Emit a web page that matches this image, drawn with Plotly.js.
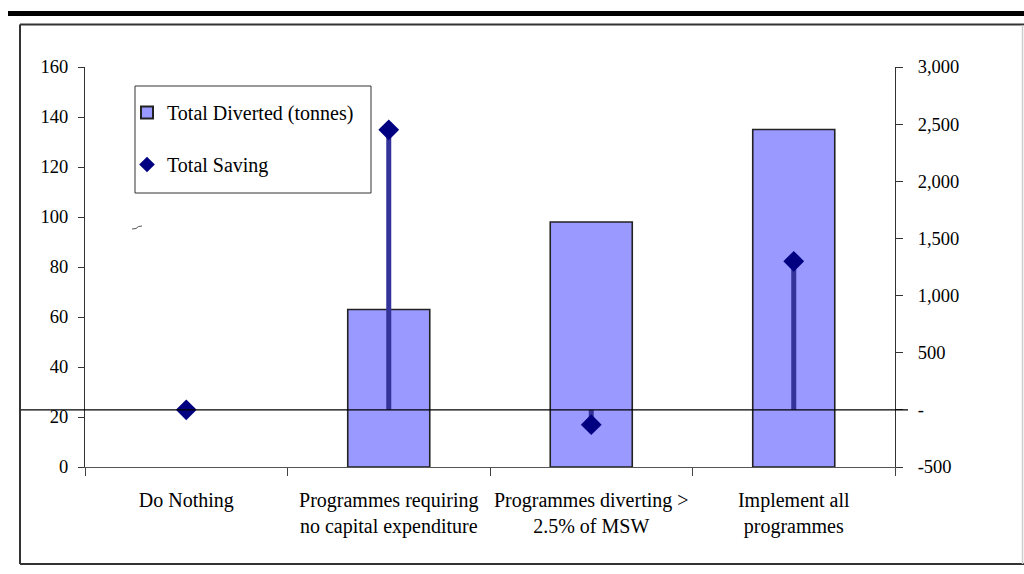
<!DOCTYPE html>
<html>
<head>
<meta charset="utf-8">
<script src="https://cdn.plot.ly/plotly-3.0.1.min.js"></script>
<style>
  html, body { margin: 0; padding: 0; background: #fff; }
  #chart { width: 1024px; height: 574px; }
</style>
</head>
<body>
<div id="chart"></div>
<script>
// Waste diversion options: tonnes diverted (left axis) and total saving (right axis)
const categories = [
  "Do Nothing",
  "Programmes requiring<br>no capital expenditure",
  "Programmes diverting &gt;<br>2.5% of MSW",
  "Implement all<br>programmes"
];
const totalDiverted = [0, 63, 98, 135];
const totalSaving = [0, 2450, -130, 1300];

const leftTicks = [0, 20, 40, 60, 80, 100, 120, 140, 160];
const rightTickVals = [-500, 0, 500, 1000, 1500, 2000, 2500, 3000];
const rightTickText = ["-500", "-", "500", "1,000", "1,500", "2,000", "2,500", "3,000"];

// Plot area in pixels
const L = 85, R = 895, T = 67, B = 467;
const px = x => (x - L) / (R - L);
const py = y => (B - y) / (B - T);

// Drop lines from zero to each saving value
const dropX = [], dropY = [];
categories.forEach((c, i) => {
  dropX.push(c, c, null);
  dropY.push(0, totalSaving[i], null);
});

const serif = "'Liberation Serif', 'Times New Roman', serif";
const numFont = { family: serif, size: 18.5, color: "#000" };
const textFont = { family: serif, size: 20, color: "#000" };

const traces = [
  {
    type: "bar",
    name: "Total Diverted (tonnes)",
    x: categories,
    y: totalDiverted,
    marker: {
      color: "#9999FF",
      // no outline on an empty bar
      line: { color: "#222", width: totalDiverted.map(v => (v ? 1.6 : 0)) }
    },
    legendgroup: "a",
    hoverinfo: "skip"
  },
  {
    type: "scatter",
    mode: "lines",
    x: dropX,
    y: dropY,
    yaxis: "y2",
    line: { color: "#333399", width: 5 },
    showlegend: false,
    hoverinfo: "skip"
  },
  {
    type: "scatter",
    mode: "markers",
    name: "Total Saving",
    x: categories,
    y: totalSaving,
    yaxis: "y2",
    marker: { symbol: "diamond", size: 16, color: "#000080" },
    legendgroup: "b",
    hoverinfo: "skip"
  }
];

const layout = {
  width: 1024,
  height: 574,
  margin: { l: L, r: 1024 - R, t: T, b: 574 - B },
  paper_bgcolor: "#fff",
  plot_bgcolor: "rgba(0,0,0,0)",
  bargap: 0.595,
  showlegend: true,
  legend: {
    x: px(127), xanchor: "left",
    y: py(93), yanchor: "top",
    bgcolor: "rgba(0,0,0,0)",
    borderwidth: 0,
    font: textFont,
    traceorder: "grouped",
    tracegroupgap: 23,
    itemsizing: "constant",
    itemwidth: 30
  },
  xaxis: {
    type: "category",
    range: [-0.5, 3.5],
    showgrid: false,
    zeroline: false,
    showline: true,
    linecolor: "#555",
    linewidth: 1,
    ticks: "outside",
    tickson: "boundaries",
    ticklen: 8,
    tickcolor: "#444",
    tickangle: 0,
    tickfont: textFont,
    ticklabelstandoff: 15,
    fixedrange: true
  },
  yaxis: {
    range: [0, 160],
    tickvals: leftTicks,
    showgrid: false,
    zeroline: false,
    showline: true,
    linecolor: "#333",
    linewidth: 1,
    ticks: "outside",
    ticklen: 6,
    tickcolor: "#333",
    tickfont: numFont,
    ticklabelstandoff: 6,
    fixedrange: true
  },
  yaxis3: {
    overlaying: "y",
    side: "left",
    anchor: "x",
    range: [0, 160],
    tickvals: leftTicks,
    showgrid: false,
    zeroline: false,
    showline: false,
    showticklabels: false,
    ticks: "inside",
    ticklen: 7,
    tickcolor: "#333",
    fixedrange: true
  },
  yaxis2: {
    overlaying: "y",
    side: "right",
    anchor: "x",
    range: [-500, 3000],
    tickvals: rightTickVals,
    ticktext: rightTickText,
    showgrid: false,
    zeroline: false,
    showline: true,
    linecolor: "#333",
    linewidth: 1,
    ticks: "outside",
    ticklen: 7,
    tickcolor: "#333",
    tickfont: numFont,
    ticklabelstandoff: 11,
    fixedrange: true
  },
  yaxis4: {
    overlaying: "y",
    side: "right",
    anchor: "x",
    range: [-500, 3000],
    tickvals: rightTickVals,
    showgrid: false,
    zeroline: false,
    showline: false,
    showticklabels: false,
    ticks: "inside",
    ticklen: 6,
    tickcolor: "#333",
    fixedrange: true
  },
  shapes: [
    // legend box
    {
      type: "rect", layer: "below",
      xref: "paper", yref: "paper",
      x0: px(135), x1: px(371), y0: py(86), y1: py(193),
      fillcolor: "#fff",
      line: { color: "#333", width: 1 }
    },
    // zero line of the saving axis, running past the plot edges
    {
      type: "line", layer: "above",
      xref: "paper", x0: px(20), x1: px(908),
      yref: "y2", y0: 0, y1: 0,
      line: { color: "#000", width: 1.3 }
    },
    // heavy rule across the top of the page
    {
      type: "line", xref: "paper", yref: "paper",
      x0: px(8), x1: px(1024), y0: py(13.5), y1: py(13.5),
      line: { color: "#000", width: 5 }
    },
    // chart frame
    {
      type: "line", xref: "paper", yref: "paper",
      x0: px(20), x1: px(1024), y0: py(24.5), y1: py(24.5),
      line: { color: "#333", width: 2 }
    },
    {
      type: "line", xref: "paper", yref: "paper",
      x0: px(20), x1: px(1024), y0: py(564), y1: py(564),
      line: { color: "#333", width: 2 }
    },
    {
      type: "line", xref: "paper", yref: "paper",
      x0: px(20), x1: px(20), y0: py(24.5), y1: py(564),
      line: { color: "#333", width: 2 }
    },
    {
      type: "line", xref: "paper", yref: "paper",
      x0: px(1022.5), x1: px(1022.5), y0: py(25), y1: py(564),
      line: { color: "#ccc", width: 1.5 }
    },
    // small stray stroke left of the plot
    {
      type: "path", xref: "paper", yref: "paper",
      path: "M " + px(132) + " " + py(229) + " L " + px(136) + " " + py(228.5) +
            " L " + px(138.5) + " " + py(226.5) + " L " + px(142) + " " + py(226),
      line: { color: "#555", width: 1 }
    }
  ]
};

Plotly.newPlot("chart", traces, layout, { staticPlot: true, displayModeBar: false });
</script>
</body>
</html>
